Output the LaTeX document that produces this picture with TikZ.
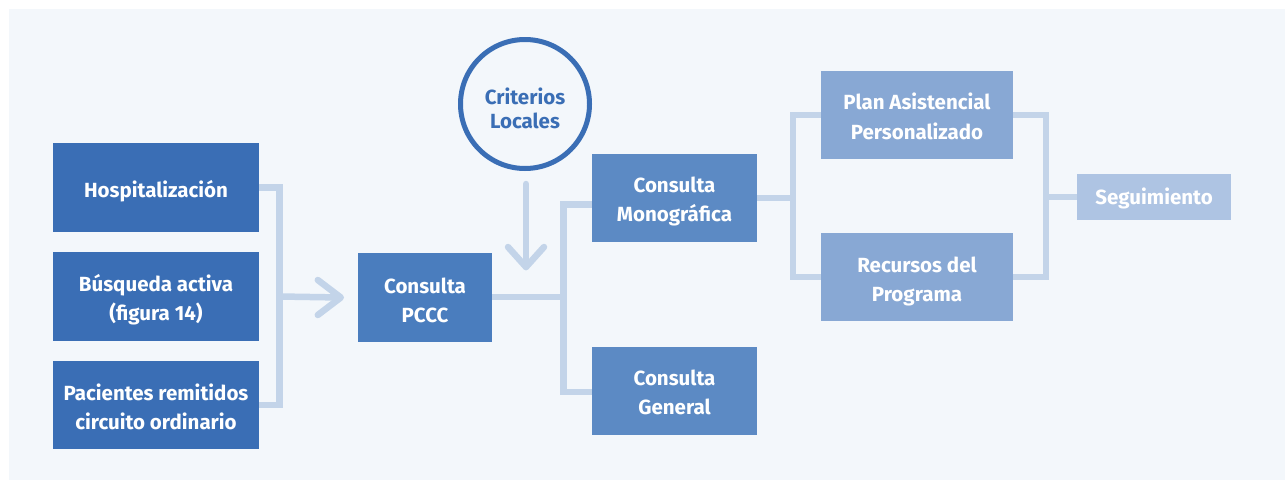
\documentclass[tikz,border=0pt]{standalone}
\usepackage{fontspec}
\setmainfont{Fira Sans}
\usetikzlibrary{calc}
\definecolor{bgc}{HTML}{F3F7FB}
\definecolor{dark}{HTML}{3A6EB5}
\definecolor{pccc}{HTML}{4A7DBE}
\definecolor{mid}{HTML}{5C8AC4}
\definecolor{light}{HTML}{88A8D4}
\definecolor{pale}{HTML}{AEC4E3}
\definecolor{conn}{HTML}{C3D4E9}
% struts that fix where the text sits in its box
\newcommand\Tst[1]{\rule{0pt}{#1pt}}
\newcommand\Bst{\rule[-7pt]{0pt}{7pt}}
\tikzset{
  box/.style={draw=none, text=white, font=\fontsize{20.5}{29}\selectfont\bfseries, align=center, inner sep=0pt},
  link/.style={draw=conn, line width=6.5pt, line join=miter},
  chev/.style={draw=conn, line width=6.5pt, line cap=round, line join=round},
}
\begin{document}
\begin{tikzpicture}[x=1pt,y=-1pt]
\useasboundingbox (0,0) rectangle (1285,480);
\fill[bgc] (9,9) rectangle (1285,480);
% left column
\node[box, fill=dark, minimum width=206pt, minimum height=89pt] (hosp) at (156,187.5) {\Tst{27.7}Hospitalización\Bst};
\node[box, fill=dark, minimum width=206pt, minimum height=89pt] (busq) at (156,296.5) {\Tst{25.1}Búsqueda activa\\(figura 14)\Bst};
\node[box, fill=dark, minimum width=206pt, minimum height=88pt] (pac) at (156,405) {\Tst{26.5}Pacientes remitidos\\circuito ordinario\Bst};
\node[box, fill=pccc, minimum width=134pt, minimum height=89pt] (pc) at (425,297.5) {\Tst{27.5}Consulta\\PCCC\Bst};
\node[draw=dark, line width=5pt, circle, minimum size=129pt, inner sep=0pt, text=dark, align=center, font=\fontsize{20.5}{24.5}\selectfont\bfseries] (crit) at (525,104) {\Tst{32}Criterios\\Locales\Bst};
\node[box, fill=mid, minimum width=165pt, minimum height=88pt] (mono) at (674.5,198) {\Tst{25.7}Consulta\\Monográfica\Bst};
\node[box, fill=mid, minimum width=165pt, minimum height=88pt] (gen) at (674.5,391) {\Tst{25.7}Consulta\\General\Bst};
\node[box, fill=light, minimum width=192pt, minimum height=88pt] (plan) at (917,115) {\Tst{26}Plan Asistencial\\[1pt]Personalizado\Bst};
\node[box, fill=light, minimum width=192pt, minimum height=88pt] (rec) at (917,277) {\Tst{27}Recursos del\\Programa\Bst};
\node[box, fill=pale, minimum width=154pt, minimum height=46pt] (seg) at (1154,197) {\Tst{21}Seguimiento\Bst};
% left bracket
\coordinate (lb) at ($(hosp.east)+(20.5,0)$);
\draw[link] (hosp.east) -- (lb) |- (pac.east);
\coordinate (tipA) at ($(pc.west)+(-17,0)$);
\draw[link] (busq.east -| lb) -- (tipA);
\draw[chev] ($(tipA)+(-23,-17.5)$) -- (tipA) -- ($(tipA)+(-23,17.5)$);
% criterios arrow
\coordinate (tipB) at (526,267);
\draw[chev] ($(crit.south)+(1,13)$) -- (tipB);
\draw[chev] ($(tipB)+(-18,-20)$) -- (tipB) -- ($(tipB)+(18,-20)$);
% pccc bracket
\coordinate (mb) at (563.5,297);
\draw[link] (pc.east |- mb) -- (mb);
\draw[link] ($(mono.west)+(0,6.5)$) -| (mb) |- ($(gen.west)+(0,1)$);
% right brackets
\coordinate (rb) at ($(plan.west)+(-28,0)$);
\draw[link] (mono.east) -- (mono.east -| rb);
\draw[link] (plan.west) -- (rb) |- (rec.west);
\coordinate (rb2) at ($(plan.east)+(33,0)$);
\draw[link] (plan.east) -- (rb2) |- (rec.east);
\draw[link] (seg.west) -- (seg.west -| rb2);
\end{tikzpicture}
\end{document}
